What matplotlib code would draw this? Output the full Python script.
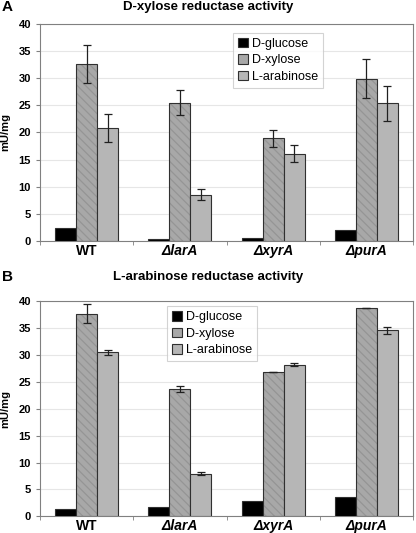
import numpy as np
import matplotlib.pyplot as plt
from matplotlib.patches import Patch

plt.rcParams["font.family"] = ["Liberation Sans", "DejaVu Sans"]
plt.rcParams["hatch.linewidth"] = 0.9

strains = ["WT", "\u0394larA", "\u0394xyrA", "\u0394purA"]
series = ["D-glucose", "D-xylose", "L-arabinose"]

# panel A: D-xylose reductase activity
a_glucose = [2.3, 0.3, 0.5, 2.1]
a_xylose = [32.7, 25.5, 18.9, 29.9]
a_arabinose = [20.8, 8.5, 16.1, 25.4]
a_glucose_err = [0, 0, 0, 0]
a_xylose_err = [3.5, 2.3, 1.5, 3.6]
a_arabinose_err = [2.6, 1.0, 1.6, 3.2]

# panel B: L-arabinose reductase activity
b_glucose = [1.3, 1.8, 2.8, 3.6]
b_xylose = [37.6, 23.6, 26.8, 38.6]
b_arabinose = [30.4, 7.9, 28.1, 34.5]
b_glucose_err = [0, 0, 0, 0]
b_xylose_err = [1.8, 0.6, 0.05, 0]
b_arabinose_err = [0.5, 0.25, 0.25, 0.6]

styles = [
    {"color": "#000000", "hatch": None},
    {"color": "#a8a8a8", "hatch": "\\\\\\\\"},
    {"color": "#b6b6b6", "hatch": None},
]
edge = "#303030"


def draw_panel(ax, values, errors, legend_anchor):
    x = np.arange(len(strains))
    width = 0.225
    for i, (vals, errs) in enumerate(zip(values, errors)):
        st = styles[i]
        pos = x + (i - 1) * width
        if st["hatch"]:
            # faint hatch first, dark outline on top
            ax.bar(pos, vals, width, color=st["color"], hatch=st["hatch"],
                   edgecolor="#959595", linewidth=0, zorder=3)
            ax.bar(pos, vals, width, fill=False, edgecolor=edge,
                   linewidth=0.8, zorder=3)
        else:
            ax.bar(pos, vals, width, color=st["color"], edgecolor=edge,
                   linewidth=0.8, zorder=3)
        if any(e > 0 for e in errs):
            ax.errorbar(pos, vals, yerr=errs, fmt="none",
                        ecolor="#202020", elinewidth=0.9, capsize=3,
                        capthick=0.9, zorder=4)
    ax.set_xlim(-0.5, len(strains) - 0.5)
    ax.set_ylim(0, 40)
    ax.set_yticks(range(0, 41, 5))
    ax.yaxis.grid(True, color="#e6e6e6", linewidth=0.8, zorder=0)
    ax.set_axisbelow(True)
    ax.set_xticks(x)
    ax.set_xticklabels(strains, fontsize=10, fontweight="bold")
    for lab in ax.get_xticklabels()[1:]:
        lab.set_fontstyle("italic")
    ax.tick_params(axis="x", length=0, pad=2)
    ax.set_xticks(np.arange(-0.5, len(strains), 1.0), minor=True)
    ax.tick_params(axis="x", which="minor", length=3, color="#808080")
    ax.tick_params(axis="y", labelsize=8, length=3, color="#808080")
    for lab in ax.get_yticklabels():
        lab.set_fontweight("bold")
    ax.set_ylabel("mU/mg", fontsize=8, fontweight="bold", labelpad=6)
    for sp in ax.spines.values():
        sp.set_color("#808080")
        sp.set_linewidth(0.8)
    handles = [Patch(facecolor=st["color"], edgecolor=edge, linewidth=0.8)
               for st in styles]
    leg = ax.legend(handles, series, loc="upper left",
                    bbox_to_anchor=legend_anchor,
                    fontsize=9, frameon=True, fancybox=False,
                    handlelength=0.8, handleheight=0.8, handletextpad=0.3,
                    borderpad=0.4, labelspacing=0.35, borderaxespad=0)
    leg.get_frame().set_edgecolor("#c8c8c8")
    leg.get_frame().set_linewidth(0.8)


fig = plt.figure(figsize=(4.16, 5.33), dpi=100)
ax_a = fig.add_axes([0.096, 0.548, 0.897, 0.407])
ax_b = fig.add_axes([0.096, 0.031, 0.897, 0.405])

draw_panel(ax_a, [a_glucose, a_xylose, a_arabinose],
           [a_glucose_err, a_xylose_err, a_arabinose_err], (0.517, 0.96))
draw_panel(ax_b, [b_glucose, b_xylose, b_arabinose],
           [b_glucose_err, b_xylose_err, b_arabinose_err], (0.34, 0.975))

fig.text(0.5, 0.987, "D-xylose reductase activity", ha="center", va="center",
         fontsize=9.5, fontweight="bold")
fig.text(0.005, 0.987, "A", ha="left", va="center", fontsize=11, fontweight="bold")
fig.text(0.5, 0.481, "L-arabinose reductase activity", ha="center", va="center",
         fontsize=9.5, fontweight="bold")
fig.text(0.005, 0.481, "B", ha="left", va="center", fontsize=11, fontweight="bold")

fig.savefig("out.png", dpi=100)
